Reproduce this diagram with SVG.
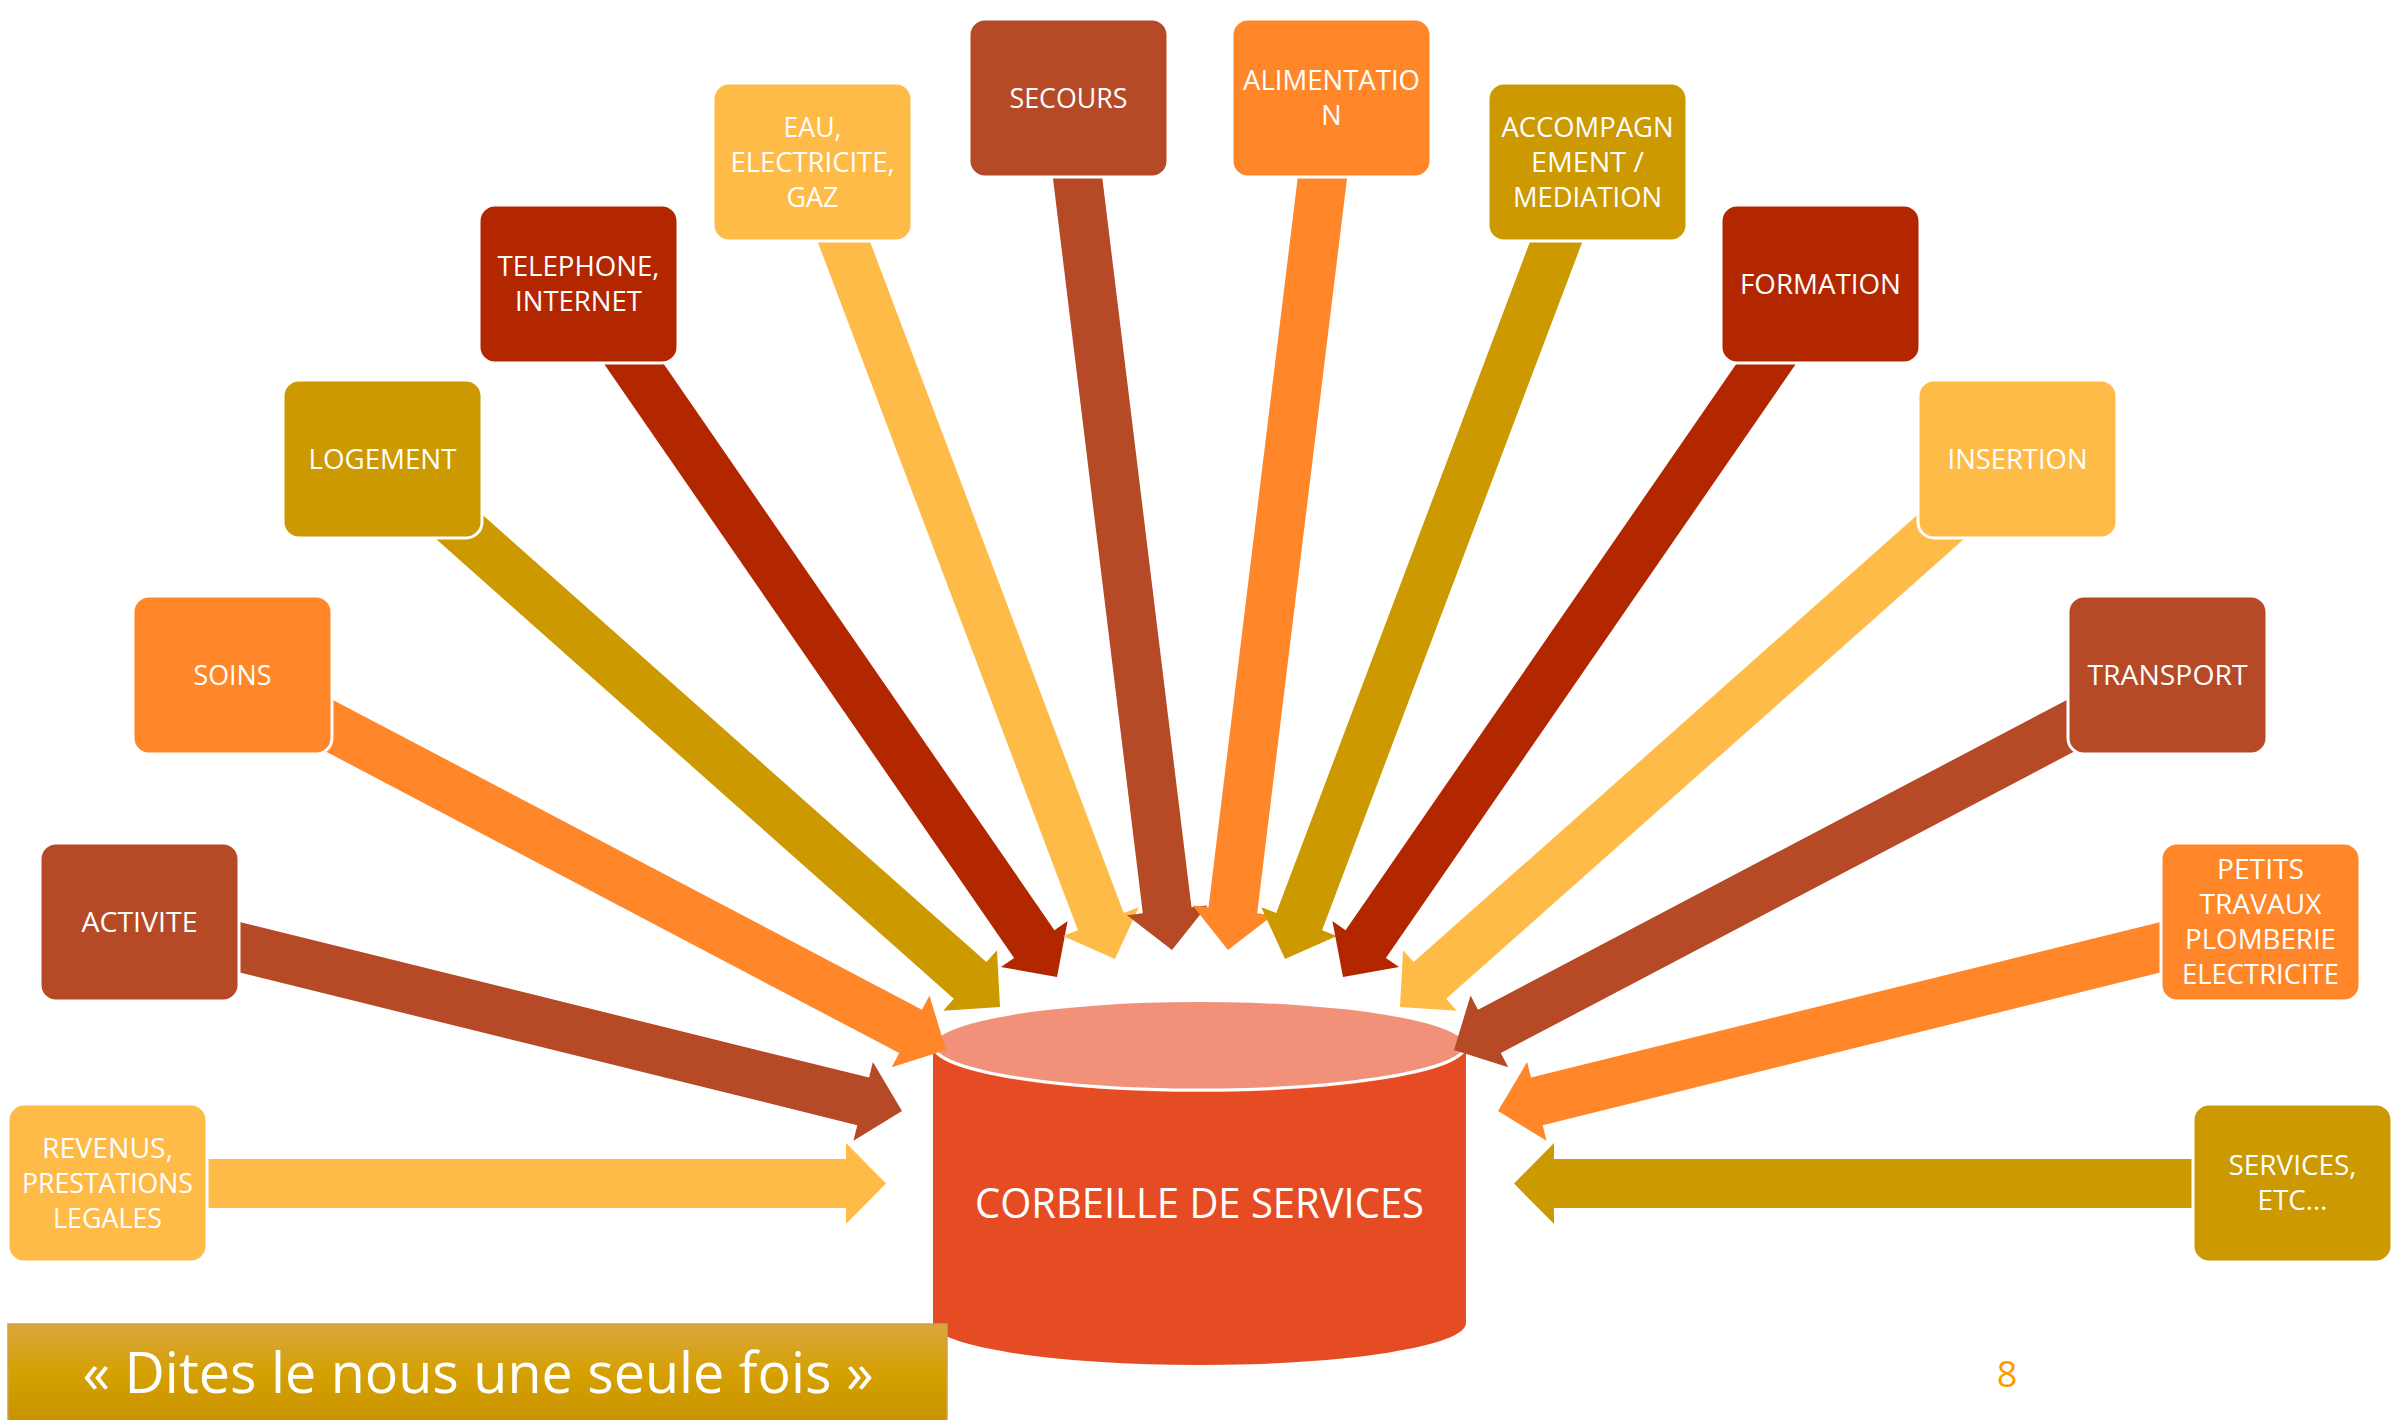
<svg xmlns="http://www.w3.org/2000/svg" width="2404" height="1420" viewBox="0 0 2404 1420">
<defs>
<style>
.box{stroke:#fff;stroke-width:3}
.lbl{font-family:"Open Sans","Liberation Sans",sans-serif;font-size:27px;fill:#fff;text-anchor:middle}
.c1{fill:#FFBB47}.c2{fill:#B64926}.c3{fill:#FF8629}.c4{fill:#CC9900}.c5{fill:#B22600}
</style>
<linearGradient id="ban" x1="0" y1="0" x2="0" y2="1">
<stop offset="0" stop-color="#D9A740"/>
<stop offset="0.5" stop-color="#D5A000"/>
<stop offset="1" stop-color="#C89200"/>
</linearGradient>
</defs>
<rect width="2404" height="1420" fill="#fff"/>

<g id="corbeille">
<path d="M933,1047 L933,1323 A266.5,42 0 0 0 1466,1323 L1466,1047 Z" fill="#E64C23"/>
<ellipse cx="1199.5" cy="1047" rx="266.5" ry="45" fill="#F1917A"/>
<path d="M934,1049 A266.5,45 0 0 0 1465,1049" fill="none" stroke="#fff" stroke-width="3"/>
<text x="1199.5" y="1218" font-family="'Open Sans','Liberation Sans',sans-serif" font-size="42" fill="#fff" text-anchor="middle" textLength="449" lengthAdjust="spacingAndGlyphs">CORBEILLE DE SERVICES</text>
</g>

<g id="connectors">
<polygon class="c1" transform="translate(886,1183.5) rotate(0)" points="0,0 -40,-40.5 -40,-24.5 -736,-24.5 -736,24.5 -40,24.5 -40,40.5"/>
<polygon class="c2" transform="translate(902,1111) rotate(13.89)" points="0,0 -40,-40.5 -40,-24.5 -723,-24.5 -723,24.5 -40,24.5 -40,40.5"/>
<polygon class="c3" transform="translate(946,1050) rotate(27.74)" points="0,0 -40,-40.5 -40,-24.5 -741,-24.5 -741,24.5 -40,24.5 -40,40.5"/>
<polygon class="c4" transform="translate(1000,1007) rotate(41.6)" points="0,0 -40,-40.5 -40,-24.5 -764,-24.5 -764,24.5 -40,24.5 -40,40.5"/>
<polygon class="c5" transform="translate(1057,977) rotate(55.39)" points="0,0 -40,-40.5 -40,-24.5 -798,-24.5 -798,24.5 -40,24.5 -40,40.5"/>
<polygon class="c1" transform="translate(1115,959) rotate(69.29)" points="0,0 -40,-40.5 -40,-24.5 -811,-24.5 -811,24.5 -40,24.5 -40,40.5"/>
<polygon class="c2" transform="translate(1172,950) rotate(83.03)" points="0,0 -40,-40.5 -40,-24.5 -806,-24.5 -806,24.5 -40,24.5 -40,40.5"/>
<polygon class="c3" transform="translate(1228,950) rotate(96.97)" points="0,0 -40,-40.5 -40,-24.5 -806,-24.5 -806,24.5 -40,24.5 -40,40.5"/>
<polygon class="c4" transform="translate(1285,959) rotate(110.71)" points="0,0 -40,-40.5 -40,-24.5 -811,-24.5 -811,24.5 -40,24.5 -40,40.5"/>
<polygon class="c5" transform="translate(1343,977) rotate(124.61)" points="0,0 -40,-40.5 -40,-24.5 -798,-24.5 -798,24.5 -40,24.5 -40,40.5"/>
<polygon class="c1" transform="translate(1400,1007) rotate(138.4)" points="0,0 -40,-40.5 -40,-24.5 -764,-24.5 -764,24.5 -40,24.5 -40,40.5"/>
<polygon class="c2" transform="translate(1454,1050) rotate(152.26)" points="0,0 -40,-40.5 -40,-24.5 -741,-24.5 -741,24.5 -40,24.5 -40,40.5"/>
<polygon class="c3" transform="translate(1498,1111) rotate(166.11)" points="0,0 -40,-40.5 -40,-24.5 -723,-24.5 -723,24.5 -40,24.5 -40,40.5"/>
<polygon class="c4" transform="translate(1514,1183.5) rotate(180)" points="0,0 -40,-40.5 -40,-24.5 -736,-24.5 -736,24.5 -40,24.5 -40,40.5"/>
</g>

<g id="revenus">
<rect class="box c1" x="8" y="1104" width="199" height="158" rx="16"/>
<text class="lbl" x="107.5" y="1157.5" textLength="131" lengthAdjust="spacingAndGlyphs">REVENUS,</text>
<text class="lbl" x="107.5" y="1192.5" textLength="171" lengthAdjust="spacingAndGlyphs">PRESTATIONS</text>
<text class="lbl" x="107.5" y="1227.5" textLength="109" lengthAdjust="spacingAndGlyphs">LEGALES</text>
</g>
<g id="activite">
<rect class="box c2" x="40" y="843" width="199" height="158" rx="16"/>
<text class="lbl" x="139.5" y="931.5" textLength="116" lengthAdjust="spacingAndGlyphs">ACTIVITE</text>
</g>
<g id="soins">
<rect class="box c3" x="133" y="596" width="199" height="158" rx="16"/>
<text class="lbl" x="232.5" y="684.5" textLength="78" lengthAdjust="spacingAndGlyphs">SOINS</text>
</g>
<g id="logement">
<rect class="box c4" x="283" y="380" width="199" height="158" rx="16"/>
<text class="lbl" x="382.5" y="468.5" textLength="148" lengthAdjust="spacingAndGlyphs">LOGEMENT</text>
</g>
<g id="telephone">
<rect class="box c5" x="479" y="205" width="199" height="158" rx="16"/>
<text class="lbl" x="578.5" y="276" textLength="162" lengthAdjust="spacingAndGlyphs">TELEPHONE,</text>
<text class="lbl" x="578.5" y="311" textLength="127" lengthAdjust="spacingAndGlyphs">INTERNET</text>
</g>
<g id="eau">
<rect class="box c1" x="713" y="83" width="199" height="158" rx="16"/>
<text class="lbl" x="812.5" y="136.5" textLength="58" lengthAdjust="spacingAndGlyphs">EAU,</text>
<text class="lbl" x="812.5" y="171.5" textLength="164" lengthAdjust="spacingAndGlyphs">ELECTRICITE,</text>
<text class="lbl" x="812.5" y="206.5" textLength="52" lengthAdjust="spacingAndGlyphs">GAZ</text>
</g>
<g id="secours">
<rect class="box c2" x="969" y="19" width="199" height="158" rx="16"/>
<text class="lbl" x="1068.5" y="107.5" textLength="118" lengthAdjust="spacingAndGlyphs">SECOURS</text>
</g>
<g id="alimentation">
<rect class="box c3" x="1232" y="19" width="199" height="158" rx="16"/>
<text class="lbl" x="1331.5" y="90" textLength="177" lengthAdjust="spacingAndGlyphs">ALIMENTATIO</text>
<text class="lbl" x="1331.5" y="125">N</text>
</g>
<g id="accompagnement">
<rect class="box c4" x="1488" y="83" width="199" height="158" rx="16"/>
<text class="lbl" x="1587.5" y="136.5" textLength="172" lengthAdjust="spacingAndGlyphs">ACCOMPAGN</text>
<text class="lbl" x="1587.5" y="171.5" textLength="113" lengthAdjust="spacingAndGlyphs">EMENT /</text>
<text class="lbl" x="1587.5" y="206.5" textLength="149" lengthAdjust="spacingAndGlyphs">MEDIATION</text>
</g>
<g id="formation">
<rect class="box c5" x="1721" y="205" width="199" height="158" rx="16"/>
<text class="lbl" x="1820.5" y="293.5" textLength="161" lengthAdjust="spacingAndGlyphs">FORMATION</text>
</g>
<g id="insertion">
<rect class="box c1" x="1918" y="380" width="199" height="158" rx="16"/>
<text class="lbl" x="2017.5" y="468.5" textLength="140" lengthAdjust="spacingAndGlyphs">INSERTION</text>
</g>
<g id="transport">
<rect class="box c2" x="2068" y="596" width="199" height="158" rx="16"/>
<text class="lbl" x="2167.5" y="684.5" textLength="160" lengthAdjust="spacingAndGlyphs">TRANSPORT</text>
</g>
<g id="petits-travaux">
<rect class="box c3" x="2161" y="843" width="199" height="158" rx="16"/>
<text class="lbl" x="2260.5" y="878.5" textLength="87" lengthAdjust="spacingAndGlyphs">PETITS</text>
<text class="lbl" x="2260.5" y="913.5" textLength="122" lengthAdjust="spacingAndGlyphs">TRAVAUX</text>
<text class="lbl" x="2260.5" y="948.5" textLength="151" lengthAdjust="spacingAndGlyphs">PLOMBERIE</text>
<text class="lbl" x="2260.5" y="983.5" textLength="157" lengthAdjust="spacingAndGlyphs">ELECTRICITE</text>
</g>
<g id="services">
<rect class="box c4" x="2193" y="1104" width="199" height="158" rx="16"/>
<text class="lbl" x="2292.5" y="1175" textLength="128" lengthAdjust="spacingAndGlyphs">SERVICES,</text>
<text class="lbl" x="2292.5" y="1210" textLength="70" lengthAdjust="spacingAndGlyphs">ETC…</text>
</g>

<g id="banner">
<rect x="8" y="1324" width="939" height="100" fill="url(#ban)" stroke="#D0A33C" stroke-width="1.5"/>
<text x="478" y="1393" font-family="'Open Sans','Liberation Sans',sans-serif" font-size="56" fill="#fff" text-anchor="middle" textLength="791" lengthAdjust="spacingAndGlyphs">« Dites le nous une seule fois »</text>
</g>
<text id="page-number" x="2007" y="1387" font-family="'Open Sans','Liberation Sans',sans-serif" font-size="36" fill="#FF9900" text-anchor="middle">8</text>
</svg>
